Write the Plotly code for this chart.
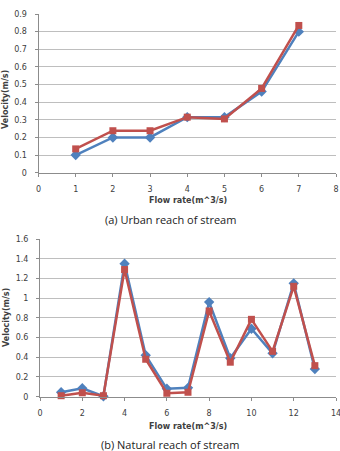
import plotly.graph_objects as go

# Urban reach data
urban_x = [1, 2, 3, 4, 5, 6, 7]
urban_blue = [0.10, 0.20, 0.20, 0.315, 0.315, 0.46, 0.80]
urban_red = [0.135, 0.238, 0.238, 0.315, 0.305, 0.478, 0.835]

# Natural reach data
nat_x = [1, 2, 3, 4, 5, 6, 7, 8, 9, 10, 11, 12, 13]
nat_blue = [0.045, 0.085, 0.005, 1.35, 0.42, 0.08, 0.09, 0.96, 0.39, 0.69, 0.44, 1.15, 0.28]
nat_red = [0.01, 0.04, 0.01, 1.29, 0.38, 0.035, 0.045, 0.87, 0.35, 0.785, 0.46, 1.12, 0.315]

BLUE = "#4F81BD"
RED = "#C0504D"
W, H = 340, 451

fig = go.Figure()

def add(x, y, color, sym, xa, ya):
    fig.add_trace(go.Scatter(x=x, y=y, mode="lines+markers", xaxis=xa, yaxis=ya,
                             line=dict(color=color, width=2.5),
                             marker=dict(color=color, symbol=sym, size=8 if sym == "diamond" else 7),
                             showlegend=False, cliponaxis=False))

add(urban_x, urban_blue, BLUE, "diamond", "x", "y")
add(urban_x, urban_red, RED, "square", "x", "y")
add(nat_x, nat_blue, BLUE, "diamond", "x2", "y2")
add(nat_x, nat_red, RED, "square", "x2", "y2")

tickfont = dict(family="DejaVu Sans", size=8, color="#404040")
common_x = dict(showgrid=False, showline=True, linecolor="#8C8C8C", linewidth=1,
                ticks="outside", ticklen=3, tickcolor="#8C8C8C", tickfont=tickfont,
                zeroline=False, ticklabelstandoff=6, automargin=False,
                ticklabeloverflow="allow")
common_y = dict(showgrid=True, gridcolor="#BEBEBE", gridwidth=1, showline=True,
                linecolor="#8C8C8C", linewidth=1, ticks="outside", ticklen=3,
                tickcolor="#8C8C8C", tickfont=tickfont, zeroline=False, ticklabelstandoff=6,
                automargin=False)

fig.update_layout(
    width=W, height=H, margin=dict(l=0, r=0, t=0, b=0, autoexpand=False),
    paper_bgcolor="white", plot_bgcolor="white",
    xaxis=dict(domain=[38.5 / W, 336 / W], range=[0, 8], dtick=1, anchor="y", **common_x),
    yaxis=dict(domain=[1 - 172.7 / H, 1 - 14 / H], range=[0, 0.9], dtick=0.1,
               anchor="x", **common_y),
    xaxis2=dict(domain=[40 / W, 336 / W], range=[0, 14], dtick=2, anchor="y2", **common_x),
    yaxis2=dict(domain=[1 - 396.7 / H, 1 - 239 / H], range=[0, 1.6], dtick=0.2,
                anchor="x2", **common_y),
)

title_font = dict(family="DejaVu Sans", size=8, color="#404040")
cap_font = dict(family="Open Sans", size=11, color="#222222")

def ann(text, x, y, font, angle=0):
    fig.add_annotation(text=text, x=x / W, y=1 - y / H, xref="paper", yref="paper",
                       showarrow=False, font=font, textangle=angle,
                       xanchor="center", yanchor="middle")

ann("<b>Flow rate(m^3/s)</b>", 188, 200, title_font)
ann("<b>Velocity(m/s)</b>", 6, 100, title_font, -90)
ann("(a) Urban reach of stream", 170, 219, cap_font)
ann("<b>Flow rate(m^3/s)</b>", 188, 426, title_font)
ann("<b>Velocity(m/s)</b>", 6, 318, title_font, -90)
ann("(b) Natural reach of stream", 170, 444, cap_font)

fig.write_html("out.html")
